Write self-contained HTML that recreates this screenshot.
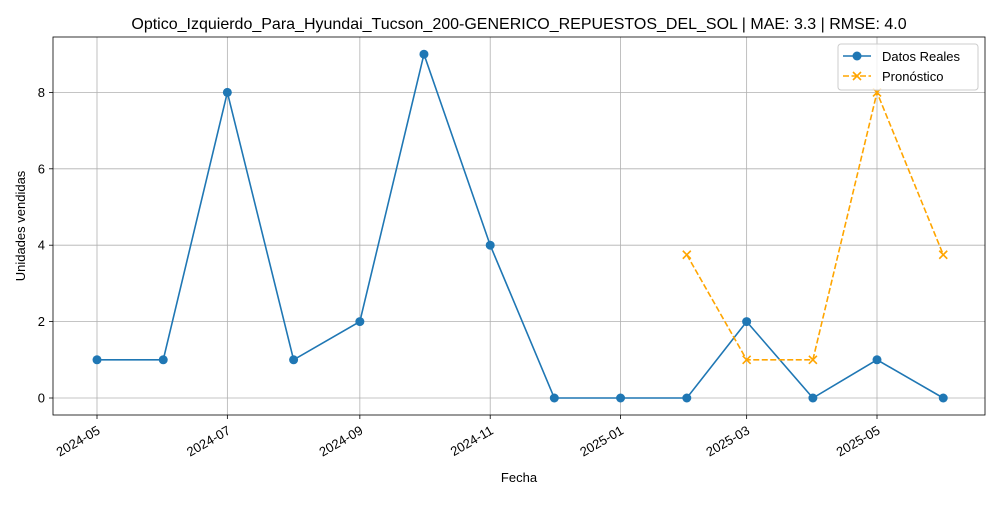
<!DOCTYPE html>
<html><head><meta charset="utf-8"><style>body{margin:0;background:#fff}svg{font-family:"Liberation Sans","DejaVu Sans",sans-serif}</style></head>
<body>
<svg id="c" width="1000" height="500" viewBox="0 0 1000 500"></svg>
<script>
const dates=["2024-05-01","2024-06-01","2024-07-01","2024-08-01","2024-09-01","2024-10-01","2024-11-01","2024-12-01","2025-01-01","2025-02-01","2025-03-01","2025-04-01","2025-05-01","2025-06-01"];
const realValues=[1,1,8,1,2,9,4,0,0,0,2,0,1,0];
const fcDates=["2025-02-01","2025-03-01","2025-04-01","2025-05-01","2025-06-01"];
const fcValues=[3.75,1,1,8,3.75];
const xTicks=["2024-05","2024-07","2024-09","2024-11","2025-01","2025-03","2025-05"];
const yTicks=[0,2,4,6,8];
const NS="http://www.w3.org/2000/svg",svg=document.getElementById('c');
const L=53,R=985,T=37,B=415;
const t0=Date.parse("2024-05-01"),pxDay=780/365;
const x=d=>97+(Date.parse(d)-t0)/86400000*pxDay;
const y=v=>398-v*38.2;
function mk(tag,attrs,parent){const e=document.createElementNS(NS,tag);for(const k in attrs)e.setAttribute(k,attrs[k]);(parent||svg).appendChild(e);return e;}
const grid=mk('g',{});
xTicks.forEach(t=>{const X=x(t+"-01");mk('line',{x1:X,x2:X,y1:T,y2:B,stroke:'#b0b0b0','stroke-width':0.8},grid);
mk('line',{x1:X,x2:X,y1:B,y2:B+4,stroke:'#000','stroke-width':0.8});
const tx=mk('text',{x:0,y:0,'font-size':13,'text-anchor':'end',transform:`translate(${X+4} ${B+18}) rotate(-30)`});tx.textContent=t;
});
yTicks.forEach(v=>{const Y=y(v);mk('line',{x1:L,x2:R,y1:Y,y2:Y,stroke:'#b0b0b0','stroke-width':0.8},grid);
mk('line',{x1:L-4,x2:L,y1:Y,y2:Y,stroke:'#000','stroke-width':0.8});
const tx=mk('text',{x:L-8,y:Y+4.5,'font-size':13,'text-anchor':'end'});tx.textContent=v;
});
const fr=mk('rect',{x:L,y:T,width:R-L,height:B-T,fill:'none',stroke:'#000','stroke-width':0.8});

const rl=mk('polyline',{points:dates.map((d,i)=>x(d)+','+y(realValues[i])).join(' '),fill:'none',stroke:'#1f77b4','stroke-width':1.6});

dates.forEach((d,i)=>{const c=mk('circle',{cx:x(d),cy:y(realValues[i]),r:4.5,fill:'#1f77b4'});
});
const fl=mk('polyline',{points:fcDates.map((d,i)=>x(d)+','+y(fcValues[i])).join(' '),fill:'none',stroke:'orange','stroke-width':1.6,'stroke-dasharray':'6,2.5'});

function xm(cx,cy,p){mk('path',{d:`M${cx-4},${cy-4}L${cx+4},${cy+4}M${cx-4},${cy+4}L${cx+4},${cy-4}`,stroke:'orange','stroke-width':1.6},p);}
fcDates.forEach((d,i)=>{const g=mk('g',{});xm(x(d),y(fcValues[i]),g);});
const ti=mk('text',{x:519,y:29,'font-size':16,'text-anchor':'middle'});ti.textContent="Optico_Izquierdo_Para_Hyundai_Tucson_200-GENERICO_REPUESTOS_DEL_SOL | MAE: 3.3 | RMSE: 4.0";

const xl=mk('text',{x:519,y:482,'font-size':13,'text-anchor':'middle'});xl.textContent="Fecha";

const yl=mk('text',{x:25,y:226,'font-size':13,'text-anchor':'middle',transform:'rotate(-90 25 226)'});yl.textContent="Unidades vendidas";

const lg=mk('g',{});
mk('rect',{x:838,y:44,width:140,height:46,rx:3,fill:'#fff','fill-opacity':0.8,stroke:'#ccc'},lg);
const e1=mk('g',{},lg);
mk('line',{x1:843,x2:871,y1:56,y2:56,stroke:'#1f77b4','stroke-width':1.6},e1);mk('circle',{cx:857,cy:56,r:4.5,fill:'#1f77b4'},e1);
mk('text',{x:882,y:61,'font-size':13},e1).textContent="Datos Reales";
const e2=mk('g',{},lg);
mk('line',{x1:843,x2:871,y1:76,y2:76,stroke:'orange','stroke-width':1.6,'stroke-dasharray':'6,2.5'},e2);xm(857,76,e2);
mk('text',{x:882,y:81,'font-size':13},e2).textContent="Pronóstico";
</script>
</body></html>
